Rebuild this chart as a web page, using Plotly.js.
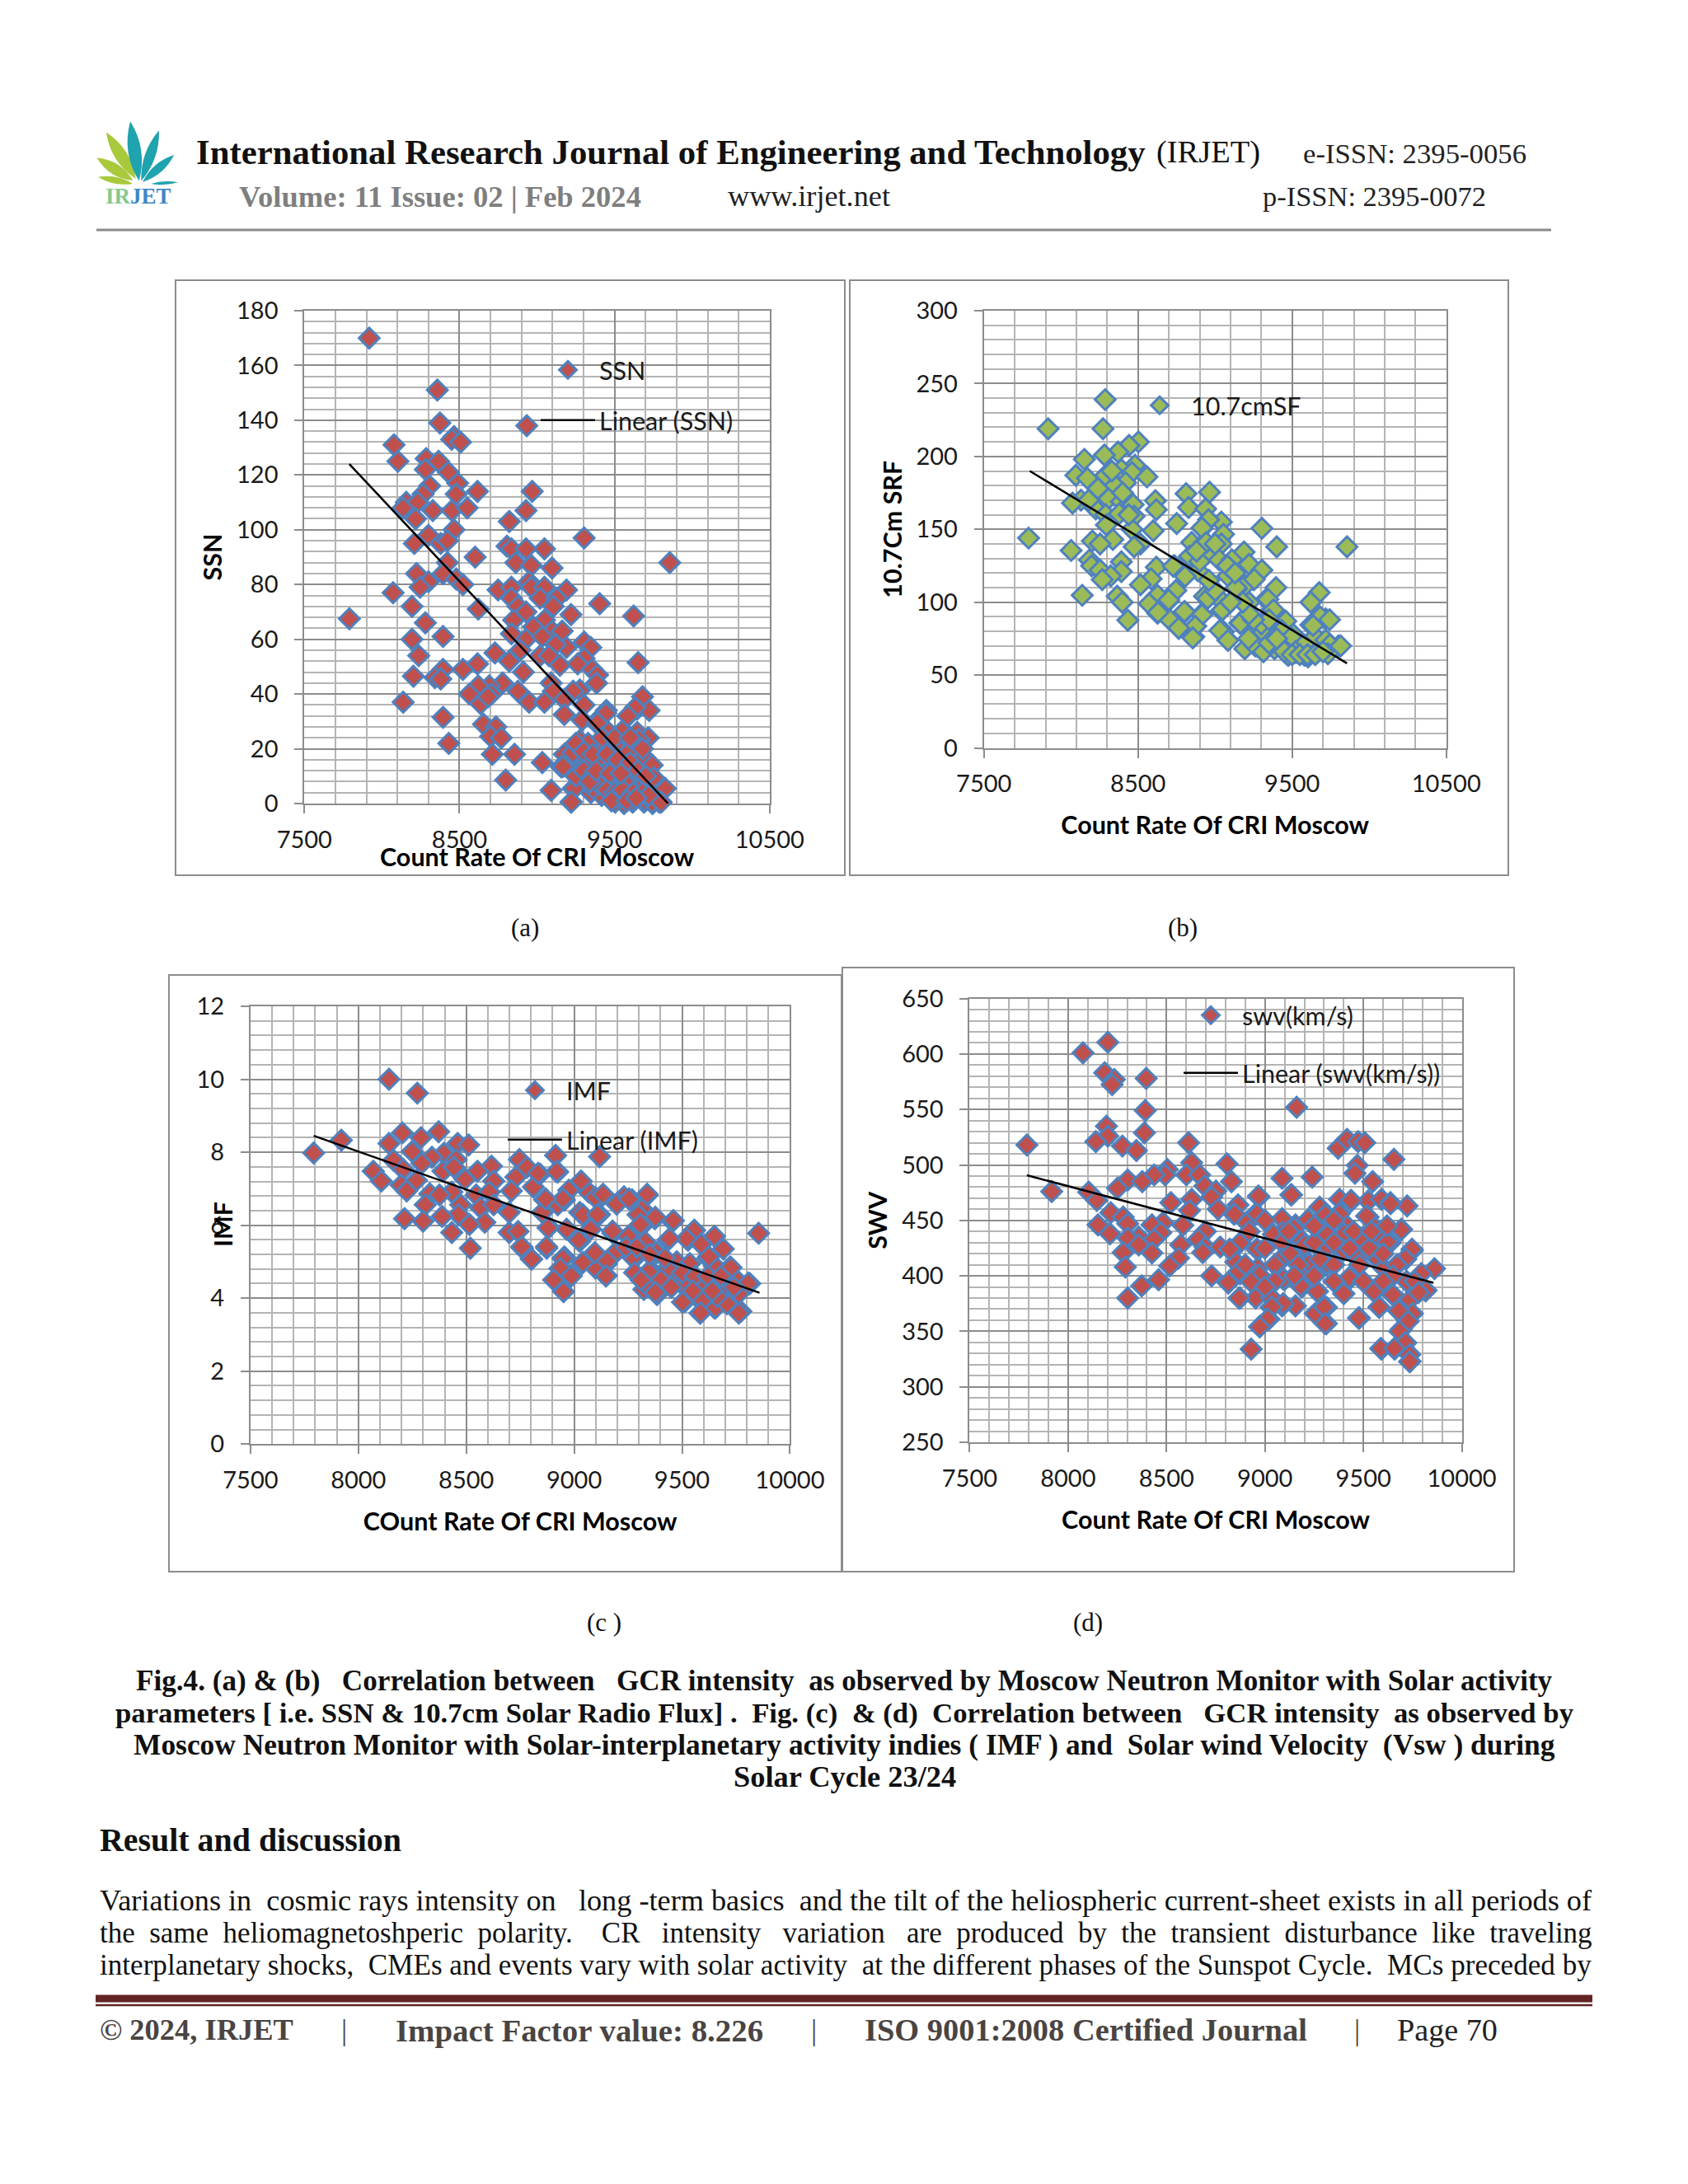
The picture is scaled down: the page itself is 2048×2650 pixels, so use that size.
<!DOCTYPE html>
<html><head><meta charset="utf-8">
<script src="https://cdn.plot.ly/plotly-3.0.1.min.js"></script>
<style>html,body{margin:0;padding:0;background:#fff}#chart{width:2048px;height:2650px}</style>
</head><body><div id="chart"></div>
<script>
// ---------- values: [count rate, parameter] ----------
const ssnPoints=[[7918,170],[8357,151],[8374,139],[8934,138],[8465,134],[8450,133],[8507,132],[8078,131],[8103,125],[8285,126],[8365,125],[8280,122],[8428,121],[8488,117],[8308,116],[8265,113],[8616,114],[8479,113],[8969,114],[8157,110],[8229,110],[8137,108],[8328,107],[8451,107],[8550,108],[8217,104],[8929,107],[8821,103],[8465,100],[8300,98],[8379,95],[8209,95],[8422,96],[9304,97],[8601,90],[8806,94],[8835,93],[8929,93],[9048,93],[8863,88],[8422,88],[8963,87],[9856,88],[9097,86],[8394,84],[8479,82],[8522,80],[8300,81],[8223,84],[8246,79],[8072,77],[8749,78],[8835,79],[8949,81],[8963,79],[9048,79],[9190,78],[8835,75],[9020,75],[9128,75],[8194,72],[9404,73],[8621,71],[9105,72],[8877,72],[8929,70],[9623,68.5],[9219,69],[7790,67.5],[8280,66],[8849,67],[9048,67],[8977,64.5],[8835,62],[9097,63],[9162,63],[8394,61],[8194,60],[8929,60],[9034,61],[9304,59],[9347,57],[8892,56],[9190,57],[9119,58],[8237,54],[9020,54],[8729,55],[9304,53],[9077,54],[8821,52],[8616,51],[9652,51.5],[9148,50.5],[9262,51],[8394,49],[8522,49],[9356,49],[9390,47],[8912,48],[8203,46.5],[8342,46],[8379,45.5],[9384,44],[9091,44],[8778,44],[8692,43],[8621,43],[8564,40],[9276,41.5],[8877,41],[9105,41],[9233,41],[8707,40],[9680,39],[8636,36.5],[8684,39],[8137,37],[8949,37],[9048,37],[9176,38],[9447,34],[9646,34.5],[9723,34],[9304,36],[9176,32.5],[9589,32],[8394,31.5],[9418,32],[9290,30.5],[8655,29],[8735,28],[9390,29],[9447,26],[9561,26],[9646,26],[8701,24.5],[8769,24],[9717,24],[9660,23],[9276,23],[8431,22],[9333,21.7],[9404,21],[9504,21],[9617,20],[8712,18],[8855,18],[9176,18],[9575,18],[9262,17],[9689,16],[9034,15],[9404,15.5],[9333,14],[9723,14],[9156,13.4],[9490,13.4],[9617,13],[9262,12],[9418,11],[9575,10],[8798,8.6],[9290,8.4],[9475,8],[9583,8],[9731,7.6],[9233,5.5],[9091,4.8],[9347,4],[9822,5.5],[9660,6],[9418,3],[9532,2.3],[9219,0.5],[9689,0.5],[9788,0.5],[9561,0],[9504,0.5],[9745,0],[9617,0.5],[9633,35],[9585,32],[9443,33],[9390,29.5],[9462,26],[9549,26.5],[9656,23.5],[9329,22],[9231,18.6],[9427,15.6],[9690,17],[9743,14],[9593,19],[9320,14],[9168,13.5],[9405,16],[9505,13.5],[9593,8.5],[9433,11],[9313,8],[9827,5.5],[9752,9.5],[9241,5.5],[9416,3],[9533,2.5],[9698,1],[9222,0.6],[9363,5.4],[9645,5.4],[9470,6.6],[9575,7.5],[9612,1],[9743,0.5],[9800,0.5],[9250,22],[9300,19],[9360,18],[9450,18],[9520,16],[9600,15],[9650,12],[9700,10],[9250,10],[9300,12],[9360,10],[9400,7],[9450,5],[9500,4],[9550,5],[9620,4],[9680,4],[9720,3],[9480,1],[9580,1],[9640,2],[9340,8],[9380,12],[9470,11],[9540,11],[9420,24],[9500,24],[9600,24],[9680,20]];
const fluxPoints=[[8287,239],[7917,219],[8273,219],[8503,210],[8442,207.5],[8370,203],[8282,201],[8152,198],[8480,194],[8392,191],[8461,189],[8558,186],[8097,187],[8290,187],[8171,185],[8420,182],[8351,180],[8964,175.5],[8812,174.5],[8199,172],[8309,171],[8130,170],[8075,168],[8613,169.6],[8392,169],[8469,167],[8828,165],[8619,163.4],[8939,164],[8226,164],[8290,160],[8378,160.7],[8475,159],[8751,154],[9041,155],[8958,156.6],[8295,153],[8917,150.7],[9304,150.7],[8599,149],[8461,150],[9055,146.6],[7790,144],[8337,143],[8204,142],[8848,141],[8254,140],[8931,141],[9041,140],[8516,140],[8475,138],[9400,138],[9856,138],[8958,134],[8066,135.5],[9188,134.4],[8834,131],[8185,129],[9027,129],[9110,129],[9221,126],[8392,127.7],[8199,125],[8619,124],[8737,125],[9304,122],[8254,122],[8889,121.5],[8392,121],[9083,118],[8323,118],[8806,117.7],[9249,115.5],[8268,115.5],[8585,116],[9194,111.4],[8516,112],[9676,106.6],[9395,110],[8746,108],[9138,109],[8931,104],[8627,104.7],[8138,104.7],[8365,104],[9621,100],[8398,100],[8696,100.6],[8572,99],[9331,102],[9027,102.5],[9221,99.8],[9373,95],[9041,94],[8627,92.5],[8806,93.3],[8911,91.7],[9718,88.5],[9676,90],[8434,87.6],[8701,88.5],[9160,85.7],[9455,87],[9621,84.4],[8765,82],[8875,83.6],[9276,81.7],[9055,79.8],[9386,81.7],[9497,79],[8862,76.3],[9649,76.3],[9083,74],[9497,75],[9718,74],[9317,76.3],[9566,70.9],[9442,70.9],[9801,70],[9193,68],[9276,69.5],[9386,68],[9745,71],[9525,65.5],[9621,65.5],[9469,64],[9580,63.6],[9732,64.6],[8835,131.6],[8915,151],[8943,141],[8728,124.7],[9137,110],[9255,115.7],[9343,102],[9379,94.7],[8952,102.6],[8700,101.5],[8630,93],[8801,93.6],[8915,91.3],[8871,83.4],[8764,82.3],[9048,94.7],[9165,85.7],[9031,80.6],[9084,73.8],[8855,75.5],[9682,90],[9636,84],[9743,88],[9459,87],[9432,80.6],[9494,76],[9426,70],[9576,71],[9815,70],[9261,70],[9522,66],[9314,66],[9476,63.6],[9603,62.5],[9255,79.5],[9314,79.5],[9217,75],[9365,73.8],[9450,66],[9500,64],[9550,64],[9600,64],[9650,64],[9700,66],[9350,72],[9400,75],[9300,85],[9350,88],[9250,88],[9220,92],[9180,100],[9100,100],[9000,108],[8960,115],[8900,128],[8880,135],[9000,140],[9080,125],[9130,120],[8180,170],[8240,178],[8330,190],[8400,175],[8440,160]];
const imfPoints=[[8142,10],[8273,9.62],[7793,7.98],[7921,8.33],[8142,8.24],[8204,8.53],[8290,8.4],[8372,8.56],[8249,8.02],[8460,8.24],[8511,8.2],[8914,7.91],[9118,7.88],[8396,7.97],[8341,7.86],[8163,7.78],[8453,7.8],[8294,7.7],[8746,7.8],[8617,7.62],[8781,7.59],[8208,7.53],[8392,7.48],[8069,7.48],[8552,7.48],[8842,7.4],[8924,7.46],[8443,7.59],[9030,7.19],[8494,7.26],[8730,7.32],[8627,7.21],[8269,7.23],[8106,7.21],[8198,7.1],[8224,6.94],[8433,6.91],[8709,6.94],[8975,6.96],[9067,6.91],[8811,7.05],[8331,6.86],[8376,6.83],[9135,6.83],[9098,6.76],[9337,6.81],[9231,6.78],[8546,6.83],[8607,6.91],[8955,6.69],[8863,6.7],[9268,6.7],[9200,6.6],[8924,6.56],[8310,6.56],[8474,6.56],[8566,6.48],[8627,6.56],[9313,6.45],[9026,6.35],[9118,6.29],[8699,6.35],[8464,6.29],[8388,6.24],[8852,6.35],[9374,6.18],[9296,6.29],[8214,6.18],[8300,6.11],[8586,6.08],[9456,6.1],[8515,6.02],[9077,5.89],[8883,5.94],[8965,5.89],[9313,5.97],[9558,5.86],[9180,5.78],[9855,5.78],[8699,5.8],[8740,5.83],[8433,5.8],[9251,5.7],[9650,5.7],[9435,5.59],[9528,5.59],[9026,5.56],[9333,5.5],[8519,5.37],[8760,5.37],[8873,5.37],[9691,5.35],[9589,5.48],[9098,5.19],[9190,5.23],[9282,5.1],[9620,5.1],[8955,5.13],[8801,5.08],[9037,4.96],[9476,5],[9149,4.94],[9722,4.85],[9650,4.89],[9098,4.83],[8934,4.81],[9354,4.78],[9425,4.78],[9466,4.5],[8981,4.62],[9149,4.62],[9333,4.4],[8914,4.5],[9395,4.5],[9814,4.4],[9501,4.37],[9753,4.5],[9599,4.35],[8951,4.18],[9323,4.24],[9384,4.1],[9691,4.24],[9589,3.91],[9513,3.91],[9763,4.13],[9661,4.1],[9708,3.88],[9650,3.73],[9773,3.64],[9583,3.59],[9763,3.59],[9032,7.21],[9134,6.85],[9197,6.58],[9338,6.85],[9254,6.72],[9376,6.22],[9460,6.13],[9040,6.29],[9108,6.29],[8948,6.72],[8868,6.72],[8833,7.42],[8918,7.47],[9178,5.84],[9307,6.02],[9556,5.86],[9520,5.63],[9441,5.63],[9330,5.54],[8879,5.93],[9021,5.59],[8872,5.41],[8757,5.41],[8803,5.07],[8948,5.09],[9040,4.98],[9096,5.25],[9191,5.25],[9153,5.02],[9273,5.11],[9383,5.25],[9624,5.14],[9536,4.95],[9433,4.8],[9345,4.73],[8936,4.82],[9147,4.61],[8987,4.61],[8905,4.5],[9330,4.39],[9402,4.5],[9502,4.39],[9376,4.16],[9598,4.41],[9700,4.28],[9807,4.41],[9594,3.94],[9502,3.89],[9656,3.74],[9708,3.85],[9586,3.6],[9727,4.84],[9662,4.05],[9240,5.4],[9290,5.4],[9350,5.2],[9420,5.1],[9500,4.7],[9560,4.6],[9620,4.6],[9680,4.6],[9740,4.3],[9450,4.3],[9550,4.2],[9640,4.2],[9280,4.7],[9310,4.5]];
const swvPoints=[[8202,610.6],[8076,601],[8186,583],[8235,577],[8224,572.5],[8397,578],[9161,552],[8392,549],[8195,535],[8388,529],[8202,526],[8141,521],[8612,520],[7791,518],[8276,517],[8347,513],[9372,515],[9417,523],[9473,521],[9507,520],[9655,505],[8628,502],[8807,501],[9469,499.6],[8504,496],[9457,492.5],[8493,491],[8437,491],[8601,491],[8668,491],[9087,488],[9240,489],[8303,486.5],[8377,485],[8830,485],[9547,485],[8251,479],[8695,481],[8751,476.5],[7917,476],[8105,475.5],[9132,473],[8729,471],[8969,471],[9379,469],[8146,468],[8628,469],[9439,467.6],[9524,467.6],[9592,469],[9637,466],[8522,466],[9722,463],[8863,464],[9278,462],[8762,460],[8617,459],[8217,457],[8841,456],[9379,457],[8953,456],[9312,455],[8280,453],[9524,453],[9087,451.6],[9222,450],[8303,447],[8482,448],[9412,446],[8426,446],[8152,446],[8583,445.6],[8908,448],[9155,446],[9558,443.5],[9693,442],[9312,444.5],[9087,439],[8213,438],[8698,440],[8471,439],[9043,437.4],[9312,437],[9403,438],[9569,436.7],[8359,435],[8437,433],[9491,434],[9188,432],[9637,430],[8661,433],[9087,430],[8572,428],[8698,425.7],[8303,434],[8359,428],[8773,426],[8830,423],[8964,423],[9390,424],[9749,423],[9199,425],[9300,423],[8280,421],[8684,421],[8426,420.7],[8874,430],[9569,416],[9715,415],[9087,415],[8561,416],[9469,416],[8852,412.5],[9222,410.7],[8516,409],[8291,408],[9312,410],[8964,407],[9603,407],[9861,406.5],[9794,402],[9199,402],[9435,398],[8874,402],[8729,400],[8460,396.5],[9099,396.5],[8953,395],[8814,393.6],[8374,391],[9569,387.6],[9816,386.5],[9188,390],[9401,384],[9648,383],[9267,386],[8303,380],[8874,380],[8953,380],[9031,380.5],[9737,378.7],[9155,373],[9312,371.6],[9087,373],[9580,371.6],[9681,368],[9031,371.6],[9749,366],[9480,362],[9020,361],[9255,366],[9312,357],[8975,354.5],[9726,359],[9693,352],[9715,339.6],[8930,334],[9592,334],[9659,334],[9726,331],[9737,323],[8967,472],[9135,473],[9437,468],[9638,465],[9516,454],[9378,456],[9307,455],[9219,450.6],[9148,443],[8959,455.7],[8846,455.7],[9692,441.6],[9483,434],[9316,437],[9622,430.5],[9400,423],[9747,424],[9202,428],[8959,424.5],[8821,424],[9085,415.6],[9224,411],[9316,411],[9713,415.5],[8868,404],[8972,400.7],[9093,397],[9428,398.5],[9818,387],[8813,394],[8930,394.7],[9650,383],[9553,386],[9400,384],[9265,386],[9181,391],[8868,380],[9580,372],[9093,375],[9302,372],[9679,368.7],[9035,372],[9475,362],[9306,357],[9014,361],[8973,354],[9727,359],[9684,350],[9713,340],[9588,334.6],[9657,334.6],[9735,329],[9735,322.6],[9000,425],[9050,410],[9130,420],[9170,410],[9250,430],[9280,415],[9350,430],[9350,410],[9430,425],[9480,410],[9530,425],[9600,420],[9670,410],[9720,395],[9760,395],[9780,385],[9650,400],[9600,395],[9500,395],[9350,395],[9250,400],[9150,400],[9050,395],[9000,390],[8900,410],[8920,440],[9000,450],[9120,440],[9250,445],[9350,450],[9450,440],[9540,440],[9620,445]];
const ssnTrend=[[7790,124],[9845,0]];
const fluxTrend=[[7798,190],[9856,58]];
const imfTrend=[[7793,8.45],[9859,4.15]];
const swvTrend=[[7791,490.7],[9856,393.7]];
const seriesNames=['SSN','10.7cmSF','IMF','swv(km/s)'];
const trendNames=['Linear (SSN)',null,'Linear (IMF)','Linear (swv(km/s))'];
const axisTitlesX=['Count Rate Of CRI  Moscow','Count Rate Of CRI Moscow','COunt Rate Of CRI Moscow','Count Rate Of CRI Moscow'];
const axisTitlesY=['SSN','10.7Cm SRF','IMF','SWV'];

// ---------- page geometry ----------
const W=2048,H=2650;
const px=v=>v/W, py=v=>1-v/H;
const RED='#C0504D',BLUE='#4F81BD',GREEN='#9BBB59';
const panels=[
 {frame:[213,340,1025,1062],plot:[369.3,377,933.8,975],xr:[7500,10500],xd:1000,xm:200,yr:[0,180],yd:20,ym:4,fill:RED,pts:ssnPoints,tr:ssnTrend,leg:[[651,449],[651,510]],titleX:'ann',xtp:[652,1039],titleY:'real',yst:8},
 {frame:[1031,340,1830,1062],plot:[1193.7,377,1754.7,907.5],xr:[7500,10500],xd:1000,xm:200,yr:[0,300],yd:50,ym:10,fill:GREEN,pts:fluxPoints,tr:fluxTrend,leg:[[1369,492]],titleX:'real',xst:24,titleY:'real',yst:8},
 {frame:[205,1183,1021,1907],plot:[303.9,1221,958.4,1752.3],xr:[7500,10000],xd:500,xm:100,yr:[0,12],yd:2,ym:0.4,fill:RED,pts:imfPoints,tr:imfTrend,leg:[[611,1323],[611,1383]],titleX:'real',xst:25,titleY:'ann',ytp:[270,1486]},
 {frame:[1022,1174,1837,1907],plot:[1176.4,1211.6,1773.6,1750],xr:[7500,10000],xd:500,xm:100,yr:[250,650],yd:50,ym:10,fill:RED,pts:swvPoints,tr:swvTrend,leg:[[1431,1232],[1431,1302]],titleX:'real',xst:25,titleY:'real',yst:8}
];
const TICK_FONT={family:'Lato, sans-serif',size:29,color:'#1a1a1a'};
const TITLE_FONT={family:'Lato, sans-serif',size:30.5,color:'#000'};
const MAJOR='#8C8C8C',MINOR='#B4B4B4';

const data=[],layout={
 width:W,height:H,margin:{l:0,r:0,t:0,b:0},paper_bgcolor:'#fff',plot_bgcolor:'#fff',
 showlegend:true,hovermode:false,shapes:[],annotations:[]
};
let legendCount=0;
function legendKey(pos){
 legendCount++;
 const key=legendCount===1?'legend':'legend'+legendCount;
 layout[key]={x:px(pos[0]),y:py(pos[1]),xanchor:'left',yanchor:'middle',xref:'paper',yref:'paper',
  bgcolor:'rgba(0,0,0,0)',borderwidth:0,itemwidth:66,font:{family:'Lato, sans-serif',size:30.5,color:'#1a1a1a'}};
 return key;
}
panels.forEach((p,i)=>{
 const s=i===0?'':String(i+1);
 const xa='xaxis'+s, ya='yaxis'+s;
 const common={showline:true,linecolor:MAJOR,linewidth:2,mirror:true,showgrid:true,gridcolor:MAJOR,gridwidth:2,
  ticks:'outside',ticklen:10,tickwidth:2,tickcolor:MAJOR,tickfont:TICK_FONT,zeroline:false,layer:'below traces',
  tickformat:'d',separatethousands:false,exponentformat:'none'};
 layout[xa]=Object.assign({},common,{domain:[px(p.plot[0]),px(p.plot[2])],range:p.xr,tick0:p.xr[0],dtick:p.xd,anchor:'y'+s,
  ticklabelstandoff:7,minor:{dtick:p.xm,tick0:p.xr[0],showgrid:true,gridcolor:MINOR,gridwidth:2,ticks:''}});
 layout[ya]=Object.assign({},common,{domain:[py(p.plot[3]),py(p.plot[1])],range:p.yr,tick0:p.yr[0],dtick:p.yd,anchor:'x'+s,
  ticklabelstandoff:14,minor:{dtick:p.ym,tick0:p.yr[0],showgrid:true,gridcolor:MINOR,gridwidth:2,ticks:''}});
 if(p.titleX==='real') layout[xa].title={text:'<b>'+axisTitlesX[i]+'</b>',font:TITLE_FONT,standoff:p.xst};
 else layout.annotations.push({xref:'paper',yref:'paper',x:px(p.xtp[0]),y:py(p.xtp[1]),showarrow:false,xanchor:'center',yanchor:'middle',text:'<b>'+axisTitlesX[i].replace('  ','\u00a0\u00a0')+'</b>',font:TITLE_FONT});
 if(p.titleY==='real') layout[ya].title={text:'<b>'+axisTitlesY[i]+'</b>',font:TITLE_FONT,standoff:p.yst};
 else layout.annotations.push({xref:'paper',yref:'paper',x:px(p.ytp[0]),y:py(p.ytp[1]),showarrow:false,textangle:-90,xanchor:'center',yanchor:'middle',text:'<b>'+axisTitlesY[i]+'</b>',font:TITLE_FONT});
 data.push({type:'scatter',mode:'markers',name:seriesNames[i],x:p.pts.map(d=>d[0]),y:p.pts.map(d=>d[1]),xaxis:'x'+s,yaxis:'y'+s,cliponaxis:false,
  marker:{symbol:'diamond',size:19,color:p.fill,line:{color:BLUE,width:3}},legend:legendKey(p.leg[0])});
 const t={type:'scatter',mode:'lines',name:trendNames[i]||'Linear',x:p.tr.map(d=>d[0]),y:p.tr.map(d=>d[1]),xaxis:'x'+s,yaxis:'y'+s,line:{color:'#000',width:2.5}};
 if(trendNames[i]) t.legend=legendKey(p.leg[1]); else t.showlegend=false;
 data.push(t);
 layout.shapes.push({type:'rect',xref:'paper',yref:'paper',layer:'below',x0:px(p.frame[0]),x1:px(p.frame[2]),y0:py(p.frame[1]),y1:py(p.frame[3]),line:{color:'#8C8C8C',width:2},fillcolor:'rgba(0,0,0,0)'});
});

// ---------- page text ----------
const SERIF='Liberation Serif, serif';
const ctx=document.createElement('canvas').getContext('2d');
function fit(txt,width,bold){ctx.font=(bold?'bold ':'')+'100px "Liberation Serif"';return 100*width/ctx.measureText(txt).width;}
function line(txt,left,right,y,bold,color){
 const clean=txt.replace(/ {2}/g,'\u00a0\u00a0');
 layout.annotations.push({xref:'paper',yref:'paper',x:px(left-3),y:py(y),xanchor:'left',yanchor:'middle',showarrow:false,
  text:bold?'<b>'+clean+'</b>':clean,font:{family:SERIF,size:fit(clean,right-left,bold),color:color||'#111'}});
}
function plain(txt,x,y,size,color,bold){
 layout.annotations.push({xref:'paper',yref:'paper',x:px(x),y:py(y),xanchor:'center',yanchor:'middle',showarrow:false,
  text:bold?'<b>'+txt+'</b>':txt,font:{family:SERIF,size:size,color:color||'#111'}});
}
line('International Research Journal of Engineering and Technology',239,1392,185,true,'#111');
line('(IRJET)',1404,1530,185,false,'#111');
line('e-ISSN: 2395-0056',1582,1853,187,false,'#222');
line('Volume: 11 Issue: 02 | Feb 2024',291,779,238,true,'#7F7F7F');
line('www.irjet.net',884,1081,238,false,'#222');
line('p-ISSN: 2395-0072',1533,1804,238,false,'#222');
plain('(a)',637,1125,31);plain('(b)',1435,1125,31);plain('(c )',733,1968,31);plain('(d)',1320,1968,31);
line('Fig.4. (a) & (b)   Correlation between   GCR intensity  as observed by Moscow Neutron Monitor with Solar activity'.replace(/   /g,'\u00a0\u00a0\u00a0'),166,1886,2039,true);
line('parameters [ i.e. SSN & 10.7cm Solar Radio Flux] .  Fig. (c)  & (d)  Correlation between   GCR intensity  as observed by'.replace(/   /g,'\u00a0\u00a0\u00a0'),141,1911,2078,true);
line('Moscow Neutron Monitor with Solar-interplanetary activity indies ( IMF ) and  Solar wind Velocity  (Vsw ) during',163,1891,2117,true);
line('Solar Cycle 23/24',891,1162,2156,true);
line('Result and discussion',122,488,2232,true);
line('Variations in  cosmic rays intensity on   long -term basics  and the tilt of the heliospheric current-sheet exists in all periods of'.replace(/   /g,'\u00a0\u00a0\u00a0'),122,1933,2306,false);
line('the  same  heliomagnetoshperic  polarity.    CR   intensity   variation   are  produced  by  the  transient  disturbance  like  traveling'.replace(/ {2,}/g,m=>'\u00a0'.repeat(m.length)),122,1933,2345,false);
line('interplanetary shocks,  CMEs and events vary with solar activity  at the different phases of the Sunspot Cycle.  MCs preceded by',122,1933,2384,false);
const FOOT='#4A4442';
line('© 2024, IRJET',122,357,2463,true,FOOT);
line('Impact Factor value: 8.226',481,928,2463,true,FOOT);
line('ISO 9001:2008 Certified Journal',1050,1587,2463,true,FOOT);
line('Page 70',1696,1818,2463,false,'#222');
plain('|',417,2463,36,FOOT);plain('|',987,2463,36,FOOT);plain('|',1646,2463,36,FOOT);

// ---------- page rules and logo ----------
function hrule(x0,x1,y,w,c){layout.shapes.push({type:'line',xref:'paper',yref:'paper',x0:px(x0),x1:px(x1),y0:py(y),y1:py(y),line:{color:c,width:w}});}
hrule(117,1882,279,3,'#8A8A8A');
hrule(116,1932,2425,9,'#622423');
hrule(116,1932,2433,2.5,'#622423');
const LOGO=[105,140,3.015];
const lx=v=>px(LOGO[0]+v/LOGO[2]), ly=v=>py(LOGO[1]+v/LOGO[2]);
function leaf(b,tip,bulge,c){
 const mx=(b[0]+tip[0])/2,my=(b[1]+tip[1])/2,dx=tip[0]-b[0],dy=tip[1]-b[1],L=Math.hypot(dx,dy),nx=-dy/L*bulge,ny=dx/L*bulge;
 layout.shapes.push({type:'path',xref:'paper',yref:'paper',fillcolor:c,line:{width:0},
  path:`M ${lx(b[0])} ${ly(b[1])} Q ${lx(mx+nx)} ${ly(my+ny)} ${lx(tip[0])} ${ly(tip[1])} Q ${lx(mx-nx)} ${ly(my-ny)} ${lx(b[0])} ${ly(b[1])} Z`});
}
[[[180,232],[72,62],45],[[170,238],[38,155],40],[[170,250],[42,225],24]].forEach(a=>leaf(a[0],a[1],a[2],'#A8C93C'));
[[[192,240],[160,22],48],[[200,240],[265,55],38],[[205,244],[320,145],32],[[235,250],[335,245],12]].forEach(a=>leaf(a[0],a[1],a[2],'#1FA3AE'));
layout.annotations.push({xref:'paper',yref:'paper',x:px(168),y:py(238),xanchor:'center',yanchor:'middle',showarrow:false,
 text:'<b><span style="color:#86C98F">IR</span><span style="color:#3E86C6">JET</span></b>',font:{family:SERIF,size:27}});

Plotly.newPlot('chart',data,layout,{displayModeBar:false,staticPlot:true});
</script></body></html>
